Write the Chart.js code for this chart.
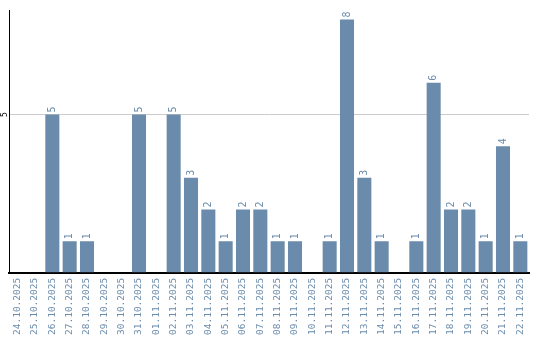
<!DOCTYPE html>
<html>
<head>
<meta charset="utf-8">
<script src="https://cdn.jsdelivr.net/npm/chart.js@4/dist/chart.umd.min.js"></script>
<style>
  html, body { margin: 0; padding: 0; background: #fff; }
  #wrap { width: 540px; height: 340px; }
</style>
</head>
<body>
<div id="wrap"><canvas id="barChart"></canvas></div>
<script>
// data
var days = [
  "24.10.2025", "25.10.2025", "26.10.2025", "27.10.2025", "28.10.2025",
  "29.10.2025", "30.10.2025", "31.10.2025", "01.11.2025", "02.11.2025",
  "03.11.2025", "04.11.2025", "05.11.2025", "06.11.2025", "07.11.2025",
  "08.11.2025", "09.11.2025", "10.11.2025", "11.11.2025", "12.11.2025",
  "13.11.2025", "14.11.2025", "15.11.2025", "16.11.2025", "17.11.2025",
  "18.11.2025", "19.11.2025", "20.11.2025", "21.11.2025", "22.11.2025"
];
var counts = [0, 0, 5, 1, 1, 0, 0, 5, 0, 5, 3, 2, 1, 2, 2, 1, 1, 0, 1, 8, 3, 1, 0, 1, 6, 2, 2, 1, 4, 1];
var yTicks = [5];

var barColor = "#6a8bab";
var monoFont = "'DejaVu Sans Mono', monospace";

// values above the bars, written vertically
var valueLabels = {
  id: "valueLabels",
  afterDatasetsDraw: function (chart) {
    var ctx = chart.ctx;
    var meta = chart.getDatasetMeta(0);
    ctx.save();
    ctx.fillStyle = barColor;
    ctx.font = "10px " + monoFont;
    ctx.textAlign = "left";
    ctx.textBaseline = "middle";
    meta.data.forEach(function (bar, i) {
      if (!counts[i]) return;
      ctx.save();
      ctx.translate(bar.x, bar.y - 2);
      ctx.rotate(-Math.PI / 2);
      ctx.fillText(String(counts[i]), 0, 0);
      ctx.restore();
    });
    ctx.restore();
  }
};

// y tick text, rotated like the rest
var yLabels = {
  id: "yLabels",
  afterDraw: function (chart) {
    var ctx = chart.ctx;
    var y = chart.scales.y;
    ctx.save();
    ctx.fillStyle = "#000";
    ctx.font = "8px " + monoFont;
    ctx.textAlign = "center";
    ctx.textBaseline = "middle";
    yTicks.forEach(function (v) {
      ctx.save();
      ctx.translate(5, y.getPixelForValue(v));
      ctx.rotate(-Math.PI / 2);
      ctx.fillText(String(v), 0, 0);
      ctx.restore();
    });
    ctx.restore();
  }
};

var ctx = document.getElementById("barChart");

var BarChart = new Chart(ctx, {
  type: "bar",
  data: {
    labels: days,
    datasets: [
      {
        data: counts,
        backgroundColor: barColor,
        barPercentage: 0.81,
        categoryPercentage: 1
      }
    ]
  },
  options: {
    responsive: true,
    maintainAspectRatio: false,
    animation: false,
    layout: {
      padding: { left: 9, top: 10, right: 11, bottom: 0 }
    },
    plugins: {
      legend: { display: false },
      tooltip: { enabled: false }
    },
    scales: {
      x: {
        grid: { display: false, drawTicks: false },
        border: { color: "#000", width: 2 },
        ticks: {
          autoSkip: false,
          minRotation: 90,
          maxRotation: 90,
          padding: 5,
          color: barColor,
          font: { family: monoFont, size: 9.5 }
        }
      },
      y: {
        min: 0,
        max: 8.3,
        grid: {
          drawTicks: false,
          color: function (c) {
            return yTicks.indexOf(c.tick.value) >= 0 ? "#cccccc" : "rgba(0,0,0,0)";
          },
          lineWidth: 1
        },
        border: { color: "#000", width: 1 },
        ticks: { display: false, stepSize: 5 }
      }
    }
  },
  plugins: [valueLabels, yLabels]
});
</script>
</body>
</html>
